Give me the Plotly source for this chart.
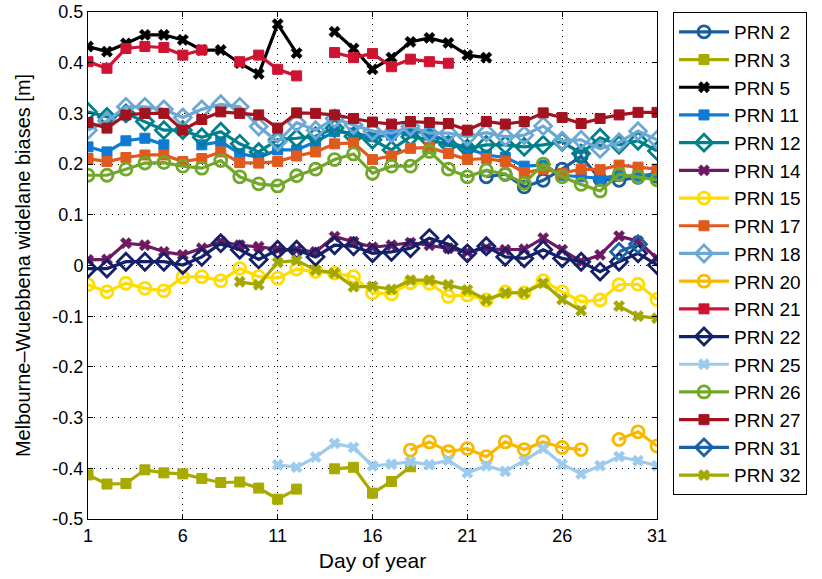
import plotly.graph_objects as go

N = None
days = list(range(1, 32))

prn2 = [N]*21 + [0.175, 0.180, 0.155, 0.168, 0.190, 0.215, 0.170, 0.168, 0.174, 0.176]
prn3 = [-0.413, -0.431, -0.430, -0.403, -0.409, -0.411, -0.420, -0.428, -0.427, -0.439, -0.461, -0.441,
        N, -0.401, -0.398, -0.449, -0.426, -0.397] + [N]*13
prn5 = [0.432, 0.422, 0.438, 0.455, 0.455, 0.445, 0.425, 0.425, 0.399, 0.378, 0.476, 0.419,
        N, 0.461, 0.428, 0.387, 0.410, 0.441, 0.449, 0.439, 0.415, 0.410] + [N]*9
prn11 = [0.234, 0.224, 0.246, 0.251, 0.238, N, 0.238, 0.244, 0.221, 0.213, 0.228, 0.228, 0.244, 0.264,
         0.261, 0.254, 0.257, 0.265, 0.260, 0.244, 0.231, 0.218, 0.213, 0.196, 0.198, 0.178, 0.175,
         0.172, 0.178, 0.176, 0.182]
prn12 = [0.303, 0.293, 0.300, 0.284, 0.267, 0.267, 0.253, 0.264, 0.240, 0.224, 0.248, 0.251, 0.255,
         0.271, 0.255, 0.248, 0.228, 0.254, 0.248, 0.238, 0.231, 0.238, 0.238, 0.234, 0.238, 0.244,
         0.221, 0.252, 0.238, 0.246, 0.226]
prn14 = [0.011, 0.012, 0.044, 0.040, 0.027, 0.021, 0.034, 0.047, 0.040, 0.037, 0.032, 0.031, 0.027,
         0.057, 0.047, 0.036, 0.040, 0.045, 0.040, 0.034, 0.027, 0.034, 0.031, 0.032, 0.054, 0.031,
         0.0075, 0.021, 0.058, 0.048, 0.014]
prn15 = [-0.038, -0.052, -0.035, -0.045, -0.050, -0.023, -0.022, -0.030, -0.006, -0.022, -0.025,
         -0.007, -0.012, -0.015, -0.022, -0.054, -0.056, -0.034, -0.035, -0.061, -0.058, -0.068,
         -0.052, -0.054, -0.030, -0.052, -0.071, -0.068, -0.038, -0.037, -0.067]
prn17 = [0.211, 0.205, 0.213, 0.218, 0.218, 0.205, 0.211, 0.224, 0.203, 0.202, 0.205, 0.216, 0.224,
         0.240, 0.242, 0.209, 0.216, 0.231, 0.233, 0.221, 0.209, 0.211, 0.205, 0.183, 0.190, 0.182,
         0.190, 0.189, 0.198, 0.194, 0.190]
prn18 = [0.267, 0.285, 0.313, 0.313, 0.308, 0.292, 0.308, 0.318, 0.313, 0.274, 0.244, 0.282, 0.267,
         0.290, 0.277, 0.265, 0.261, 0.274, 0.261, 0.261, 0.254, 0.262, 0.254, 0.257, 0.275, 0.246,
         0.248, 0.230, 0.243, 0.265, 0.248]
prn20 = [N]*17 + [-0.364, -0.348, -0.367, -0.361, -0.377, -0.348, -0.363, -0.348, -0.359, -0.363,
                  N, -0.343, -0.328, -0.356]
prn21 = [0.402, 0.389, 0.428, 0.432, 0.430, 0.415, 0.425, N, 0.402, 0.415, 0.387, 0.374,
         N, 0.420, 0.410, 0.418, 0.392, 0.407, 0.402, 0.399] + [N]*11
prn22 = [-0.006, -0.006, 0.0075, 0.0075, 0.0075, 0.001, 0.017, 0.044, 0.031, 0.012, 0.031, 0.031,
         0.017, 0.040, 0.038, 0.024, 0.027, 0.034, 0.054, 0.042, 0.024, 0.038, 0.017, 0.014, 0.031,
         0.014, 0.0075, -0.012, 0.0075, 0.024, 0.001]
prn25 = [N]*10 + [-0.393, -0.398, -0.378, -0.351, -0.359, -0.395, -0.392, -0.387, -0.393, -0.384,
                  -0.409, -0.395, -0.406, -0.385, -0.361, -0.392, -0.411, -0.395, -0.377, -0.385,
                  -0.395]
prn26 = [0.178, 0.178, 0.190, 0.202, 0.203, 0.196, 0.192, 0.207, 0.175, 0.161, 0.157, 0.177, 0.190,
         0.209, 0.220, 0.182, 0.196, 0.196, 0.225, 0.190, 0.175, 0.188, 0.180, 0.162, 0.200, 0.175,
         0.160, 0.147, 0.180, 0.175, 0.169]
prn27 = [0.282, 0.271, 0.297, 0.300, 0.300, 0.267, 0.288, 0.303, 0.300, 0.297, 0.271, 0.301, 0.300,
         0.297, 0.290, 0.283, 0.279, 0.284, 0.282, 0.280, 0.267, 0.284, 0.279, 0.284, 0.301, 0.292,
         0.280, 0.290, 0.297, 0.302, 0.302]
prn31 = [N]*28 + [0.027, 0.042, N]
prn32 = [N]*8 + [-0.032, -0.038, 0.006, 0.010, -0.009, -0.015, -0.042, -0.041, -0.047, -0.029,
                 -0.029, -0.038, -0.048, -0.068, -0.054, -0.054, -0.035, -0.067, -0.089,
                 N, -0.080, -0.100, -0.104]

series_names = ["PRN 2", "PRN 3", "PRN 5", "PRN 11", "PRN 12", "PRN 14", "PRN 15", "PRN 17",
                "PRN 18", "PRN 20", "PRN 21", "PRN 22", "PRN 25", "PRN 26", "PRN 27", "PRN 31",
                "PRN 32"]
series_values = [prn2, prn3, prn5, prn11, prn12, prn14, prn15, prn17, prn18, prn20, prn21, prn22,
                 prn25, prn26, prn27, prn31, prn32]
colors = ["#1B5C9C", "#A8AA00", "#000000", "#0E7AD4", "#00808C", "#6E1A63", "#FFDD00", "#E05A1E",
          "#6DA8D4", "#F9B800", "#CF1433", "#15206A", "#9CCBEE", "#72A82A", "#A3131F", "#1A62A8",
          "#A3A800"]
kinds = ["o", "s", "x", "s", "d", "x", "o", "s", "d", "o", "s", "d", "x", "o", "s", "d", "x"]

x_ticks = [1, 6, 11, 16, 21, 26, 31]
y_ticks = [-0.5, -0.4, -0.3, -0.2, -0.1, 0, 0.1, 0.2, 0.3, 0.4, 0.5]
y_ticktext = ["-0.5", "-0.4", "-0.3", "-0.2", "-0.1", "0", "0.1", "0.2", "0.3", "0.4", "0.5"]

fig = go.Figure()
for name, vals, col, k in zip(series_names, series_values, colors, kinds):
    if k == "o":
        mk = dict(symbol="circle-open", size=12, color=col, line=dict(width=2.8, color=col))
    elif k == "s":
        mk = dict(symbol="square", size=10, color=col, line=dict(width=1, color=col))
    elif k == "d":
        mk = dict(symbol="diamond-open", size=13, color=col, line=dict(width=2.8, color=col))
    else:
        mk = dict(symbol="x", size=10, color=col, line=dict(width=0.5, color=col))
    fig.add_trace(go.Scatter(x=days, y=vals, name=name, mode="lines+markers",
                             line=dict(color=col, width=3.2), marker=mk, connectgaps=False))

axis_common = dict(showline=True, linecolor="black", linewidth=1, mirror="ticks",
                   ticks="inside", ticklen=5, tickcolor="black", showgrid=True,
                   gridcolor="#000000", gridwidth=1, griddash="1px,5px", zeroline=False,
                   automargin=False, ticklabeloverflow="allow",
                   tickfont=dict(size=18, color="black"))

fig.update_xaxes(range=[1, 31], tickvals=x_ticks, ticktext=[str(t) for t in x_ticks],
                 title=dict(text="Day of year", font=dict(size=21, color="black"), standoff=8),
                 **axis_common)
fig.update_yaxes(range=[-0.5, 0.5], tickvals=y_ticks, ticktext=y_ticktext,
                 title=dict(text="Melbourne\u2013Wuebbena widelane biases [m]",
                            font=dict(size=20, color="black"), standoff=16),
                 **axis_common)

fig.update_layout(
    width=822, height=579,
    margin=dict(l=88, r=165, t=12, b=60),
    paper_bgcolor="white", plot_bgcolor="white",
    font=dict(family="Liberation Sans, Arial, sans-serif", color="black"),
    legend=dict(x=1.0281, y=1.0, xanchor="left", yanchor="top", bgcolor="white",
                bordercolor="black", borderwidth=1, font=dict(size=19, color="black"),
                tracegroupgap=0, itemwidth=50),
    showlegend=True,
)

fig.write_html("out.html", config={"displayModeBar": False},
               post_script="document.body.style.margin='0';")
